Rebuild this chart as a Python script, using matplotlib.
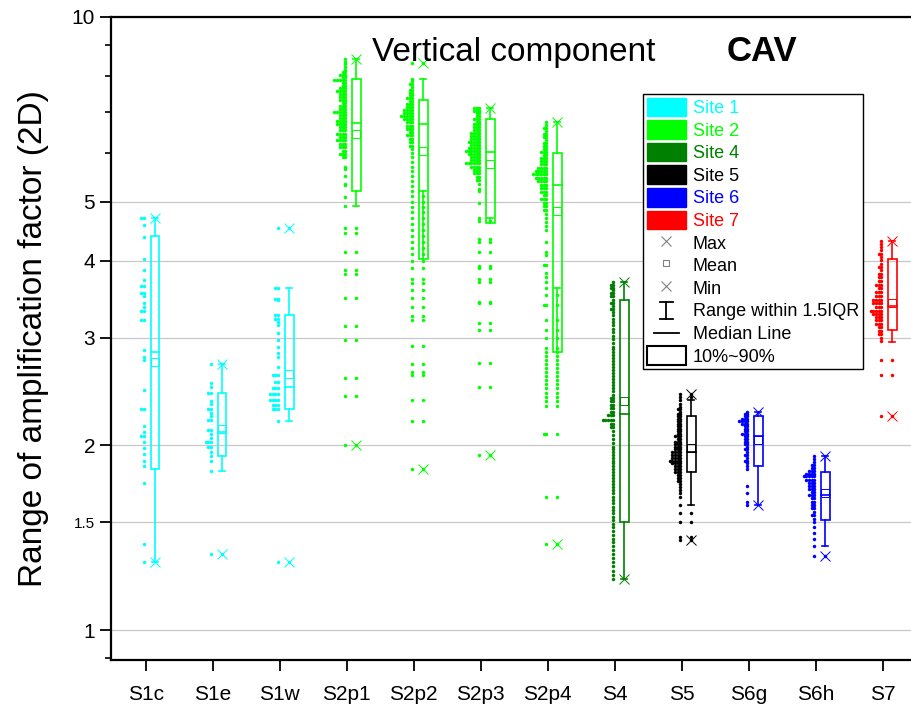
import matplotlib
matplotlib.use('Agg')
import matplotlib.pyplot as plt
from matplotlib.patches import Patch, Rectangle
from matplotlib.lines import Line2D
from matplotlib.legend_handler import HandlerBase

plt.rcParams['font.family'] = ['Liberation Sans', 'DejaVu Sans']

# ─────────────────────────────────────────
# DATA
# ─────────────────────────────────────────
groups = ['S1c', 'S1e', 'S1w', 'S2p1', 'S2p2', 'S2p3', 'S2p4',
          'S4', 'S5', 'S6g', 'S6h', 'S7']
group_colors = ['#00FFFF', '#00FFFF', '#00FFFF', '#00FF00', '#00FF00', '#00FF00',
                '#00FF00', '#008000', '#000000', '#0000FF', '#0000FF', '#FF0000']

p10      = [1.83, 1.92, 2.29, 5.20, 4.03, 4.61, 2.84, 1.50, 1.81, 1.85, 1.51, 3.09]
p90      = [4.40, 2.44, 3.26, 7.92, 7.32, 6.83, 5.99, 3.46, 2.23, 2.23, 1.81, 4.03]
medians  = [2.84, 2.10, 2.49, 6.72, 6.70, 6.03, 5.32, 2.25, 1.95, 2.07, 1.66, 3.38]
means    = [2.74, 2.13, 2.62, 6.45, 6.05, 5.76, 4.83, 2.36, 1.98, 2.04, 1.67, 3.42]
whisk_lo = [1.29, 1.82, 2.19, 4.92, 5.21, 4.70, 3.62, 1.21, 1.60, 1.60, 1.37, 2.95]
whisk_hi = [4.70, 2.72, 3.62, 8.53, 7.93, 7.10, 6.73, 3.70, 2.37, 2.27, 1.92, 4.31]
maxs     = [4.70, 2.72, 4.52, 8.53, 8.40, 7.10, 6.73, 3.70, 2.43, 2.27, 1.92, 4.31]
mins     = [1.29, 1.33, 1.29, 2.00, 1.83, 1.93, 1.38, 1.21, 1.40, 1.60, 1.32, 2.23]

# data points as (value, number of points in that row)
dots_S1c = [(4.70, 2), (4.58, 1), (4.38, 1), (4.03, 1), (3.86, 1), (3.73, 1), (3.64, 2),
            (3.55, 2), (3.51, 1), (3.41, 1), (3.37, 1), (3.32, 2), (3.20, 2), (2.86, 1),
            (2.79, 1), (2.76, 1), (2.46, 1), (2.29, 2), (2.15, 1), (2.10, 1), (2.07, 2),
            (2.03, 1), (1.98, 1), (1.94, 1), (1.89, 1), (1.85, 1), (1.74, 1), (1.38, 1),
            (1.29, 1)]
dots_S1e = [(2.72, 1), (2.53, 1), (2.49, 1), (2.44, 2), (2.36, 1), (2.34, 1), (2.29, 2),
            (2.26, 1), (2.23, 1), (2.20, 2), (2.12, 2), (2.09, 1), (2.06, 1), (2.03, 3),
            (1.99, 2), (1.95, 1), (1.92, 1), (1.89, 1), (1.82, 1), (1.33, 1)]
dots_S1w = [(4.52, 1), (3.62, 2), (3.47, 2), (3.45, 1), (3.27, 2), (3.22, 2), (3.18, 1),
            (3.15, 1), (3.05, 1), (2.97, 1), (2.90, 1), (2.83, 1), (2.79, 1), (2.69, 1),
            (2.61, 3), (2.54, 2), (2.48, 3), (2.43, 4), (2.37, 4), (2.33, 3), (2.29, 3),
            (2.19, 1), (1.29, 1)]
dots_S2p1 = [(8.53, 1), (8.45, 1), (8.37, 1), (8.29, 1), (8.21, 1), (8.13, 2), (8.05, 3),
             (7.97, 2), (7.89, 5), (7.81, 2), (7.73, 2), (7.65, 3), (7.57, 4), (7.49, 3),
             (7.41, 3), (7.33, 3), (7.25, 2), (7.17, 3), (7.09, 3), (7.01, 5), (6.93, 3),
             (6.85, 3), (6.77, 4), (6.69, 4), (6.61, 3), (6.53, 3), (6.45, 4), (6.37, 3),
             (6.29, 4), (6.21, 3), (6.13, 3), (6.05, 2), (5.97, 3), (5.90, 2), (5.70, 1),
             (5.64, 1), (5.50, 1), (5.35, 1), (5.32, 1), (5.09, 1), (4.92, 1), (4.53, 1),
             (4.45, 1), (4.14, 1), (3.87, 1), (3.81, 1), (3.48, 1), (3.13, 1), (2.97, 1),
             (2.58, 1), (2.41, 1), (2.00, 1)]
dots_S2p2 = [(8.40, 1), (7.93, 1), (7.85, 1), (7.77, 2), (7.69, 1), (7.61, 2), (7.53, 2),
             (7.45, 2), (7.37, 3), (7.29, 2), (7.21, 3), (7.13, 3), (7.05, 4), (6.97, 4),
             (6.89, 5), (6.81, 4), (6.73, 3), (6.65, 3), (6.57, 3), (6.49, 2), (6.41, 3),
             (6.33, 2), (6.25, 2), (6.17, 2), (6.09, 1), (5.99, 1), (5.90, 1), (5.80, 1),
             (5.70, 1), (5.60, 1), (5.50, 1), (5.40, 1), (5.30, 1), (5.21, 1), (5.10, 1),
             (5.00, 1), (4.90, 1), (4.80, 1), (4.70, 1), (4.60, 1), (4.50, 1), (4.40, 1),
             (4.30, 1), (4.20, 1), (4.10, 1), (4.00, 1), (3.89, 1), (3.74, 1), (3.68, 1),
             (3.59, 1), (3.48, 1), (3.37, 1), (3.25, 1), (3.20, 1), (2.91, 1), (2.72, 1),
             (2.64, 1), (2.61, 1), (2.37, 1), (2.19, 1), (1.83, 1)]
dots_S2p3 = [(7.10, 3), (7.03, 3), (6.96, 2), (6.89, 2), (6.82, 3), (6.75, 2), (6.68, 3),
             (6.61, 3), (6.54, 3), (6.47, 4), (6.40, 4), (6.33, 4), (6.26, 5), (6.19, 4),
             (6.12, 5), (6.05, 6), (5.98, 5), (5.91, 4), (5.84, 4), (5.77, 6), (5.70, 4),
             (5.63, 3), (5.56, 3), (5.49, 2), (5.42, 2), (5.35, 1), (5.24, 1), (5.20, 1),
             (4.97, 1), (4.70, 1), (4.64, 1), (4.34, 1), (4.30, 1), (4.14, 1), (3.93, 1),
             (3.90, 1), (3.74, 1), (3.69, 1), (3.43, 1), (3.41, 1), (3.17, 1), (3.09, 1),
             (2.73, 1), (2.49, 1), (1.93, 1)]
dots_S2p4 = [(6.73, 1), (6.66, 1), (6.59, 2), (6.52, 1), (6.45, 2), (6.38, 2), (6.31, 1),
             (6.24, 2), (6.17, 2), (6.10, 2), (6.03, 3), (5.96, 2), (5.89, 3), (5.82, 3),
             (5.75, 3), (5.68, 4), (5.61, 5), (5.54, 6), (5.47, 5), (5.40, 4), (5.33, 3),
             (5.26, 3), (5.19, 3), (5.12, 2), (5.05, 3), (4.98, 2), (4.91, 2), (4.84, 2),
             (4.77, 1), (4.70, 1), (4.63, 1), (4.56, 1), (4.49, 1), (4.30, 1), (4.14, 1),
             (4.09, 1), (3.94, 2), (3.82, 1), (3.77, 1), (3.70, 1), (3.62, 1), (3.52, 1),
             (3.39, 2), (3.20, 1), (3.09, 1), (2.99, 1), (2.88, 1), (2.84, 1), (2.80, 1),
             (2.76, 1), (2.72, 1), (2.68, 1), (2.64, 1), (2.60, 1), (2.56, 1), (2.52, 1),
             (2.48, 1), (2.44, 1), (2.40, 1), (2.36, 1), (2.32, 1), (2.09, 2), (1.65, 1),
             (1.38, 1)]
dots_S4 = [(3.70, 1), (3.66, 2), (3.62, 2), (3.58, 1), (3.54, 2), (3.50, 2), (3.46, 1),
           (3.42, 2), (3.38, 1), (3.34, 2), (3.30, 1), (3.26, 1), (3.22, 1), (3.18, 1),
           (3.14, 1), (3.10, 1), (3.06, 1), (3.02, 1), (2.98, 1), (2.94, 1), (2.90, 1),
           (2.87, 1), (2.84, 1), (2.81, 1), (2.78, 1), (2.75, 1), (2.72, 1), (2.69, 1),
           (2.66, 1), (2.63, 1), (2.60, 1), (2.57, 1), (2.54, 1), (2.51, 1), (2.48, 1),
           (2.45, 1), (2.42, 1), (2.39, 2), (2.36, 2), (2.33, 2), (2.30, 2), (2.27, 2),
           (2.24, 3), (2.20, 5), (2.17, 2), (2.14, 2), (2.11, 1), (2.08, 1), (2.05, 1),
           (2.02, 1), (1.99, 1), (1.97, 1), (1.95, 1), (1.93, 1), (1.91, 1), (1.89, 1),
           (1.87, 1), (1.85, 1), (1.83, 1), (1.81, 1), (1.79, 1), (1.77, 1), (1.75, 1),
           (1.73, 1), (1.71, 1), (1.69, 1), (1.67, 1), (1.65, 1), (1.63, 1), (1.61, 1),
           (1.59, 1), (1.57, 1), (1.55, 1), (1.53, 1), (1.51, 1), (1.49, 1), (1.47, 1),
           (1.45, 1), (1.43, 1), (1.41, 1), (1.39, 1), (1.37, 1), (1.35, 1), (1.33, 1),
           (1.31, 1), (1.29, 1), (1.27, 1), (1.25, 1), (1.23, 1), (1.21, 1)]
dots_S5 = [(2.43, 1), (2.40, 1), (2.37, 1), (2.34, 1), (2.31, 1), (2.29, 2), (2.27, 1),
           (2.25, 2), (2.23, 2), (2.21, 2), (2.19, 2), (2.17, 2), (2.15, 2), (2.13, 2),
           (2.11, 2), (2.09, 2), (2.07, 3), (2.05, 2), (2.03, 3), (2.01, 3), (1.99, 3),
           (1.97, 3), (1.95, 4), (1.93, 4), (1.91, 4), (1.89, 5), (1.87, 4), (1.85, 3),
           (1.83, 3), (1.81, 3), (1.79, 2), (1.77, 2), (1.75, 2), (1.73, 1), (1.71, 1),
           (1.69, 1), (1.67, 1), (1.65, 1), (1.60, 1), (1.55, 1), (1.50, 1), (1.42, 1),
           (1.40, 1)]
dots_S6g = [(2.27, 1), (2.25, 2), (2.23, 2), (2.21, 3), (2.19, 4), (2.17, 3), (2.15, 2),
            (2.13, 2), (2.11, 2), (2.09, 3), (2.07, 2), (2.05, 2), (2.03, 2), (2.01, 2),
            (1.99, 1), (1.97, 2), (1.95, 1), (1.93, 2), (1.91, 1), (1.89, 2), (1.87, 1),
            (1.85, 1), (1.83, 1), (1.72, 1), (1.67, 1), (1.62, 1), (1.60, 1)]
dots_S6h = [(1.92, 1), (1.90, 1), (1.88, 1), (1.86, 2), (1.84, 2), (1.82, 3), (1.80, 4),
            (1.78, 5), (1.76, 4), (1.74, 3), (1.72, 3), (1.70, 3), (1.68, 2), (1.66, 3),
            (1.64, 2), (1.62, 2), (1.60, 2), (1.58, 2), (1.56, 1), (1.54, 2), (1.52, 1),
            (1.50, 1), (1.47, 1), (1.44, 1), (1.41, 1), (1.37, 1), (1.32, 1)]
dots_S7 = [(4.31, 1), (4.26, 1), (4.21, 1), (4.16, 1), (4.11, 2), (4.06, 1), (4.01, 1),
           (3.96, 1), (3.91, 2), (3.86, 1), (3.81, 2), (3.76, 2), (3.71, 2), (3.66, 3),
           (3.61, 2), (3.56, 3), (3.51, 3), (3.46, 4), (3.41, 4), (3.36, 3), (3.32, 5),
           (3.28, 4), (3.24, 3), (3.20, 3), (3.16, 3), (3.12, 2), (3.08, 2), (3.04, 2),
           (3.00, 1), (2.96, 1), (2.76, 1), (2.61, 1), (2.23, 1)]

dot_rows = [dots_S1c, dots_S1e, dots_S1w, dots_S2p1, dots_S2p2, dots_S2p3, dots_S2p4,
            dots_S4, dots_S5, dots_S6g, dots_S6h, dots_S7]

sites = ['Site 1', 'Site 2', 'Site 4', 'Site 5', 'Site 6', 'Site 7']
site_colors = ['#00FFFF', '#00FF00', '#008000', '#000000', '#0000FF', '#FF0000']

y_ticks = [1, 1.5, 2, 3, 4, 5, 10]
y_ticklabels = ['1', '1.5', '2', '3', '4', '5', '10']
y_minor = [0.9, 6, 7, 8, 9]

# ─────────────────────────────────────────
# PLOT
# ─────────────────────────────────────────
fig = plt.figure(figsize=(9.11, 7.07), dpi=100)
ax = fig.add_axes([111 / 911, 47 / 707, 800 / 911, 643 / 707])

box_off = 0.142   # box sits right of the tick
dot_off = -0.022  # data points column sits on the tick
dot_dx = 0.04     # horizontal step between stacked points
half_w = 0.065
cap_w = 0.045

for i, (rows, c) in enumerate(zip(dot_rows, group_colors)):
    xs, ys = [], []
    for v, n in rows:
        for k in range(n):
            xs.append(i + dot_off - k * dot_dx)
            ys.append(v)
    ax.plot(xs, ys, 'o', ms=2.5, mew=0, color=c, zorder=3)

    bx = i + box_off
    # outliers are repeated on the box
    outl = [v for v, n in rows if v < whisk_lo[i] or v > whisk_hi[i]]
    ax.plot([bx] * len(outl), outl, 'o', ms=2.5, mew=0, color=c, zorder=3)

    ax.add_patch(Rectangle((bx - half_w, p10[i]), 2 * half_w, p90[i] - p10[i],
                           fill=False, ec=c, lw=1.2, zorder=4))
    ax.plot([bx - half_w, bx + half_w], [medians[i]] * 2, color=c, lw=1.2, zorder=4)
    ax.plot([bx, bx], [p90[i], whisk_hi[i]], color=c, lw=1.2, zorder=4)
    ax.plot([bx, bx], [p10[i], whisk_lo[i]], color=c, lw=1.2, zorder=4)
    for w in (whisk_lo[i], whisk_hi[i]):
        ax.plot([bx - cap_w, bx + cap_w], [w, w], color=c, lw=1.2, zorder=4)
    ax.plot(bx, means[i], 's', ms=5.5, mfc='none', mec=c, mew=0.7, zorder=5)
    ax.plot([bx, bx], [maxs[i], mins[i]], 'x', ls='none', ms=7, mew=0.7, color=c, zorder=5)

ax.set_yscale('log')
ax.set_ylim(10 ** (-30 / 613), 10)
ax.set_xlim(-0.516, 11.42)

ax.set_yticks(y_ticks)
ax.set_yticklabels(y_ticklabels)
ax.set_yticks(y_minor, minor=True)
ax.set_yticklabels([''] * len(y_minor), minor=True)
ax.set_xticks(range(len(groups)))
ax.set_xticklabels(groups)

ax.tick_params(axis='both', which='major', labelsize=15, width=1.3, length=8, direction='out')
ax.tick_params(axis='y', which='minor', width=1.2, length=4.5, direction='out')
ax.tick_params(axis='x', pad=10)
for lab in ax.get_yticklabels():
    if lab.get_text() == '1.5':
        lab.set_fontsize(11)

ax.yaxis.grid(True, which='major', color='#c8c8c8', lw=0.9)
ax.set_axisbelow(True)
for s in ('left', 'bottom', 'top'):
    ax.spines[s].set_linewidth(1.6)
ax.spines['right'].set_visible(False)

ax.set_ylabel('Range of amplification factor (2D)', fontsize=24)
ax.yaxis.set_label_coords(-0.077, 0.5)

fig.text(372 / 911, 1 - 61 / 707, 'Vertical component', fontsize=24, va='baseline')
fig.text(727 / 911, 1 - 61 / 707, 'CAV', fontsize=25, fontweight='bold', va='baseline')


# ─────────────────────────────────────────
# LEGEND
# ─────────────────────────────────────────
class GlyphHandler(HandlerBase):
    def __init__(self, kind):
        super().__init__()
        self.kind = kind

    def create_artists(self, legend, orig_handle, xdescent, ydescent,
                       width, height, fontsize, trans):
        cx = -xdescent + width / 2
        if self.kind == 'ibeam':
            y0 = -ydescent + height * 0.05
            y1 = -ydescent + height * 0.95
            cw = width * 0.16
            segs = [([cx, cx], [y0, y1]), ([cx - cw, cx + cw], [y0, y0]),
                    ([cx - cw, cx + cw], [y1, y1])]
        else:
            ym = -ydescent + height / 2
            segs = [([cx - width * 0.32, cx + width * 0.32], [ym, ym])]
        arts = []
        for xx, yy in segs:
            ln = Line2D(xx, yy, color='black', lw=1.3)
            ln.set_transform(trans)
            arts.append(ln)
        return arts


handles = [Patch(facecolor=c, edgecolor=c) for c in site_colors]
ibeam = Line2D([], [])
median_h = Line2D([], [])
handles += [Line2D([], [], marker='x', ls='none', color='gray', ms=7, mew=0.8),
            Line2D([], [], marker='s', ls='none', mfc='none', mec='gray', ms=5, mew=0.8),
            Line2D([], [], marker='x', ls='none', color='gray', ms=7, mew=0.8),
            ibeam, median_h,
            Patch(facecolor='white', edgecolor='black', lw=1.5)]
labels = sites + ['Max', 'Mean', 'Min', 'Range within 1.5IQR', 'Median Line', '10%~90%']

leg = ax.legend(handles, labels, loc='upper left',
                bbox_to_anchor=(643 / 911, 1 - 94 / 707), bbox_transform=fig.transFigure,
                fontsize=13, handlelength=2.2, handleheight=1.2, handletextpad=0.35,
                labelspacing=0.18, borderpad=0.2, borderaxespad=0, fancybox=False,
                framealpha=1, edgecolor='black',
                handler_map={ibeam: GlyphHandler('ibeam'), median_h: GlyphHandler('median')})
leg.get_frame().set_linewidth(1.0)
text_colors = site_colors + ['black'] * 6
for t, c in zip(leg.get_texts(), text_colors):
    t.set_color(c)

fig.savefig('out.png', dpi=100)
